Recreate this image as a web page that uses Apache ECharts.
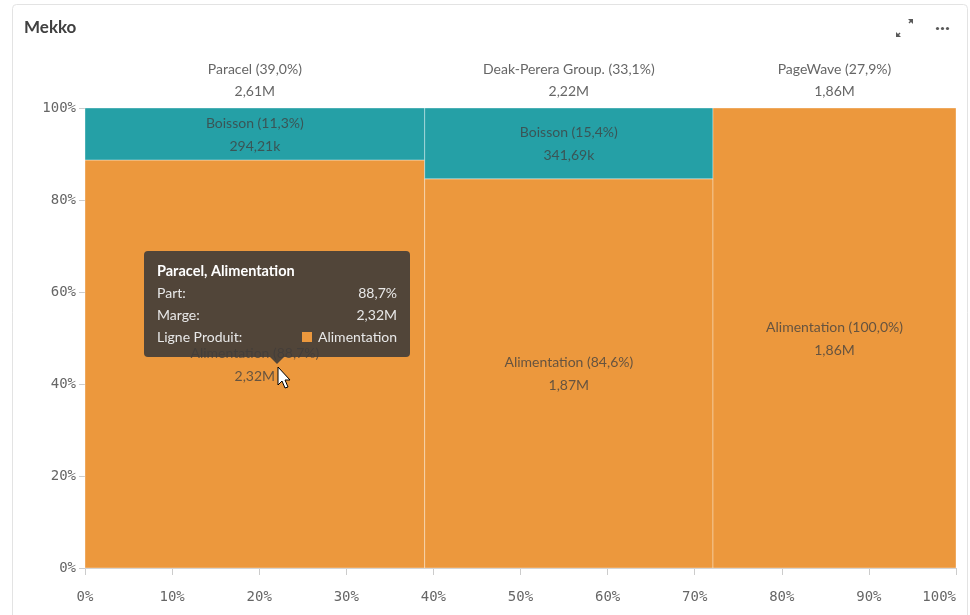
<!DOCTYPE html>
<html><head><meta charset="utf-8">
<script src="https://cdn.jsdelivr.net/npm/echarts@6/dist/echarts.min.js"></script>
<style>html,body{margin:0;padding:0;background:#fff;}#c{width:970px;height:615px;}</style>
</head><body><div id="c"></div>
<script>
// ---- data ----
var companies = ['Paracel', 'Deak-Perera Group.', 'PageWave'];
var companyShare = [39.0, 33.1, 27.9];          // % of total width
var companyMarge = [2610000, 2220000, 1860000];
var products = ['Alimentation', 'Boisson'];
var alimShare = [88.7, 84.6, 100.0];
var alimMarge = [2320000, 1870000, 1860000];
var boissonShare = [11.3, 15.4, 0];
var boissonMarge = [294210, 341690, 0];
var xTicks = [0, 10, 20, 30, 40, 50, 60, 70, 80, 90, 100];
var yTicks = [0, 20, 40, 60, 80, 100];

var COLORS = { 'Alimentation': '#ec983d', 'Boisson': '#25a0a6' };
var FONT = 'Lato, "Noto Sans", sans-serif';
var MONO = '"DejaVu Sans Mono", monospace';

function fmtPct(v) { return v.toFixed(1).replace('.', ','); }
function fmtShort(v) {
  if (v >= 1e6) return (v / 1e6).toFixed(2).replace('.', ',') + 'M';
  return (v / 1e3).toFixed(2).replace('.', ',') + 'k';
}

// build segments
var segData = [];
var headData = [];
var x0 = 0;
for (var i = 0; i < companies.length; i++) {
  var x1 = x0 + companyShare[i];
  headData.push([x0, x1, companyShare[i], companyMarge[i], i]);
  segData.push([x0, x1, 0, alimShare[i], alimShare[i], alimMarge[i], i, 0]);
  if (boissonShare[i] > 0) {
    segData.push([x0, x1, alimShare[i], 100, boissonShare[i], boissonMarge[i], i, 1]);
  }
  x0 = x1;
}

var chart = echarts.init(document.getElementById('c'), null, { renderer: 'canvas' });

function renderSeg(params, api) {
  var p0 = api.coord([api.value(0), api.value(3)]);
  var p1 = api.coord([api.value(1), api.value(2)]);
  var prod = products[api.value(7)];
  var cx = (p0[0] + p1[0]) / 2, cy = (p0[1] + p1[1]) / 2;
  var h = p1[1] - p0[1];
  return { type: 'group', children: [
    { type: 'rect',
      shape: { x: p0[0], y: p0[1], width: p1[0] - p0[0], height: h },
      style: { fill: COLORS[prod], stroke: 'rgba(255,255,255,0.35)', lineWidth: 1 } },
    { type: 'text', z2: 5,
      style: { text: prod + ' (' + fmtPct(api.value(4)) + '%)', x: cx, y: cy - 11, align: 'center', verticalAlign: 'middle',
        font: '14px ' + FONT, fill: 'rgba(64,64,64,0.78)' } },
    { type: 'text', z2: 5,
      style: { text: fmtShort(api.value(5)), x: cx, y: cy + 12, align: 'center', verticalAlign: 'middle',
        font: '14px ' + FONT, fill: 'rgba(64,64,64,0.78)' } }
  ] };
}

function renderHead(params, api) {
  var pa = api.coord([api.value(0), 100]);
  var pb = api.coord([api.value(1), 100]);
  var cx = (pa[0] + pb[0]) / 2;
  var name = companies[api.value(4)];
  return {
    type: 'group', children: [
      { type: 'text', style: { text: name + ' (' + fmtPct(api.value(2)) + '%)', x: cx, y: pa[1] - 39,
          align: 'center', verticalAlign: 'middle', font: '14px ' + FONT, fill: '#666666' } },
      { type: 'text', style: { text: fmtShort(api.value(3)), x: cx, y: pa[1] - 17,
          align: 'center', verticalAlign: 'middle', font: '14px ' + FONT, fill: '#666666' } }
    ]
  };
}

// tooltip overlay (decoration showing the hovered segment)
var tipIdx = 0;
var tipX = 144, tipY = 251, tipW = 266, tipH = 106;
var TIPBG = 'rgba(64,60,56,0.9)';
var TIPFG = '#e8e8e8';
var TF = '14px ' + FONT;
var tipElems = [
  { type: 'rect', z: 100, shape: { x: tipX, y: tipY, width: tipW, height: tipH, r: 4 }, style: { fill: TIPBG } },
  { type: 'polygon', z: 100, shape: { points: [[270, tipY + tipH], [284, tipY + tipH], [277, tipY + tipH + 7]] }, style: { fill: TIPBG } },
  { type: 'text', z: 101, x: tipX + 13, y: 271, style: { text: companies[tipIdx] + ', ' + products[0],
      verticalAlign: 'middle', font: 'bold 14.5px ' + FONT, fill: '#ffffff' } },
  { type: 'text', z: 101, x: tipX + 13, y: 293, style: { text: 'Part:', verticalAlign: 'middle', font: TF, fill: TIPFG } },
  { type: 'text', z: 101, x: tipX + tipW - 13, y: 293, style: { text: fmtPct(alimShare[tipIdx]) + '%', align: 'right', verticalAlign: 'middle', font: TF, fill: TIPFG } },
  { type: 'text', z: 101, x: tipX + 13, y: 315, style: { text: 'Marge:', verticalAlign: 'middle', font: TF, fill: TIPFG } },
  { type: 'text', z: 101, x: tipX + tipW - 13, y: 315, style: { text: fmtShort(alimMarge[tipIdx]), align: 'right', verticalAlign: 'middle', font: TF, fill: TIPFG } },
  { type: 'text', z: 101, x: tipX + 13, y: 337, style: { text: 'Ligne Produit:', verticalAlign: 'middle', font: TF, fill: TIPFG } },
  { type: 'rect', z: 101, shape: { x: 302, y: 332, width: 10, height: 10 }, style: { fill: COLORS['Alimentation'] } },
  { type: 'text', z: 101, x: tipX + tipW - 13, y: 337, style: { text: products[0], align: 'right', verticalAlign: 'middle', font: TF, fill: TIPFG } },
  { type: 'polygon', z: 102, shape: { points: [[278, 367], [278, 385], [282, 381], [285, 388], [288, 387], [285, 380], [290, 380]] },
    style: { fill: '#ffffff', stroke: '#000000', lineWidth: 1 } }
];

var baseGraphic = [
  { type: 'rect', z: -10, shape: { x: 12.5, y: 4.5, width: 955, height: 640, r: 4 },
    style: { fill: 'none', stroke: '#e3e3e3', lineWidth: 1 } },
  { type: 'text', x: 24, y: 28, style: { text: 'Mekko', verticalAlign: 'middle', font: 'bold 17px ' + FONT, fill: '#404040' } },
  { type: 'polygon', shape: { points: [[908, 19], [913, 19], [913, 24]] }, style: { fill: '#595959' } },
  { type: 'line', shape: { x1: 912, y1: 20, x2: 909, y2: 23 }, style: { stroke: '#595959', lineWidth: 1.5 } },
  { type: 'polygon', shape: { points: [[896, 32], [896, 37], [901, 37]] }, style: { fill: '#595959' } },
  { type: 'line', shape: { x1: 897, y1: 36, x2: 900, y2: 33 }, style: { stroke: '#595959', lineWidth: 1.5 } },
  { type: 'circle', shape: { cx: 937.5, cy: 28.5, r: 1.6 }, style: { fill: '#595959' } },
  { type: 'circle', shape: { cx: 942.5, cy: 28.5, r: 1.6 }, style: { fill: '#595959' } },
  { type: 'circle', shape: { cx: 947.5, cy: 28.5, r: 1.6 }, style: { fill: '#595959' } }
];

var option = {
  animation: false,
  backgroundColor: '#ffffff',
  grid: { left: 85, right: 14, top: 108, bottom: 47, containLabel: false, outerBoundsMode: 'none' },
  xAxis: {
    type: 'value', min: 0, max: 100, interval: 10,
    axisLine: { show: true, lineStyle: { color: '#cccccc', width: 1 } },
    axisTick: { show: true, length: 7, lineStyle: { color: '#cccccc' } },
    splitLine: { show: false },
    axisLabel: { formatter: '{value}%', margin: 22, fontFamily: MONO, fontSize: 14, color: '#666666',
      alignMaxLabel: 'right' }
  },
  yAxis: {
    type: 'value', min: 0, max: 100, interval: 20, offset: 4,
    axisLine: { show: false },
    axisTick: { show: true, length: 6, lineStyle: { color: '#cccccc' } },
    splitLine: { show: false },
    axisLabel: { formatter: '{value}%', margin: 5, fontFamily: MONO, fontSize: 14, color: '#666666' }
  },
  series: [
    { type: 'custom', renderItem: renderSeg, data: segData, encode: { x: [0, 1], y: [2, 3] }, z: 2 },
    { type: 'custom', renderItem: renderHead, data: headData, encode: { x: [0, 1] }, clip: false, z: 3 }
  ],
  graphic: { elements: baseGraphic.concat(tipElems) }
};
chart.setOption(option);
</script>
</body></html>
